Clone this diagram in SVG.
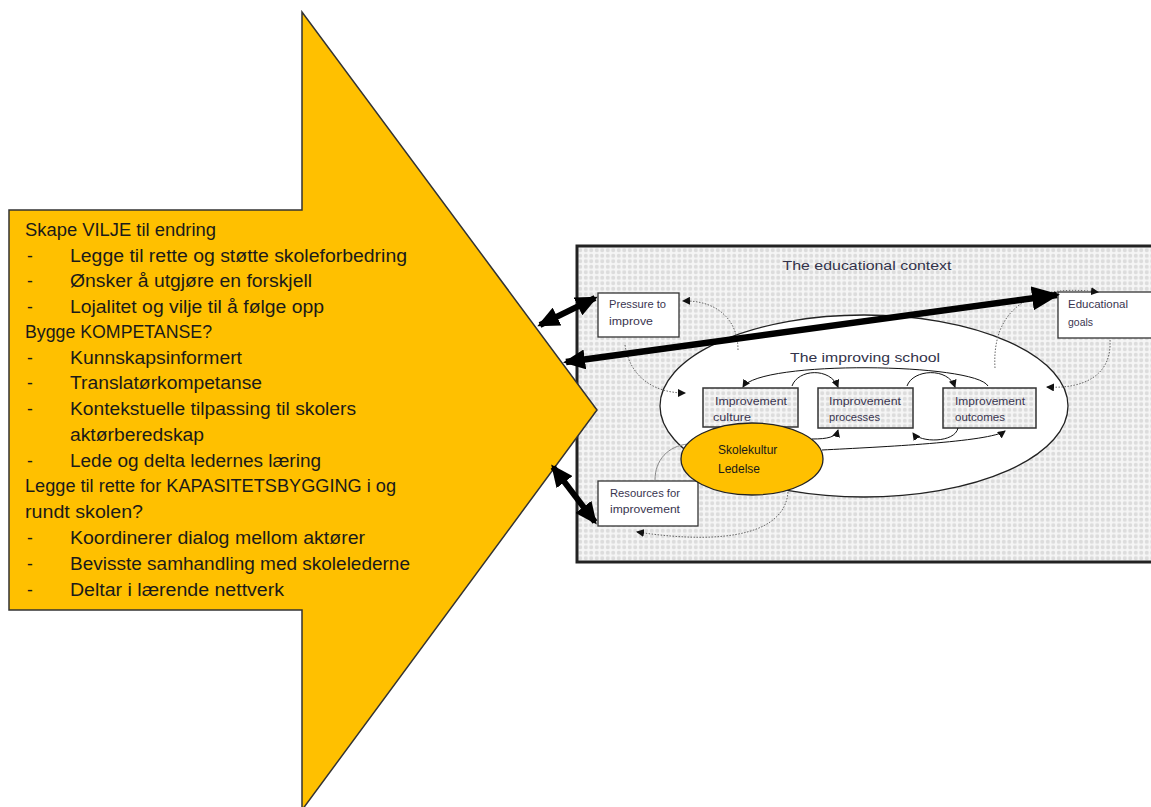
<svg xmlns="http://www.w3.org/2000/svg" width="1151" height="807" viewBox="0 0 1151 807">
<style>
.main{font-family:"Liberation Sans",Arial,sans-serif;font-size:17.5px;fill:#1a1a1a}
.lbl{font-family:"Liberation Sans",Arial,sans-serif;font-size:13.5px;fill:#33334a}
.sm{font-family:"Liberation Sans",Arial,sans-serif;font-size:10px;fill:#3a3550}
.sk{font-family:"Liberation Sans",Arial,sans-serif;font-size:12px;fill:#1a1a1a}
.box{fill:#fff;stroke:#333;stroke-width:1.3}
.pbox{fill:url(#dots);stroke:#333;stroke-width:1.5}
.thick{stroke:#000;stroke-width:6;fill:none;marker-start:url(#big);marker-end:url(#big)}
.thin{stroke:#111;stroke-width:1;fill:none;marker-end:url(#sm)}
.dot{stroke:#666;stroke-width:1;stroke-dasharray:1.5 1.5;fill:none}
</style>
<defs>
<pattern id="dots" width="5.5" height="5.5" patternUnits="userSpaceOnUse">
<rect width="5.5" height="5.5" fill="#f5f5f5"/>
<circle cx="2.75" cy="2.75" r="2" fill="#dcdcdc"/>
</pattern>
<marker id="big" viewBox="0 0 22 20" markerWidth="22" markerHeight="20" refX="19" refY="10" markerUnits="userSpaceOnUse" orient="auto-start-reverse">
<path d="M0,0 L22,10 L0,20 z" fill="#000"/>
</marker>
<marker id="big2" viewBox="0 0 28 24" markerWidth="28" markerHeight="24" refX="25" refY="12" markerUnits="userSpaceOnUse" orient="auto">
<path d="M0,0 L28,12 L0,24 z" fill="#000"/>
</marker>
<marker id="sm" viewBox="0 0 8 8" markerWidth="8" markerHeight="8" refX="7" refY="4" markerUnits="userSpaceOnUse" orient="auto">
<path d="M0,0 L8,4 L0,8 z" fill="#111"/>
</marker>
</defs>
<rect width="1151" height="807" fill="#fff"/>

<g id="context">
<rect x="577" y="246" width="580" height="316" fill="url(#dots)" stroke="#222" stroke-width="3"/>
<text class="lbl" x="867" y="270" text-anchor="middle" textLength="169" lengthAdjust="spacingAndGlyphs">The educational context</text>
</g>

<g id="bigArrow">
<polygon points="9,210 302,210 302,12 597,410 302,810 302,610 9,610" fill="#FFC000" stroke="#333" stroke-width="1.5"/>
<text class="main" x="25" y="236" textLength="191" lengthAdjust="spacingAndGlyphs">Skape VILJE til endring</text>
<text class="main" x="27" y="262">-</text><text class="main" x="70" y="262" textLength="337" lengthAdjust="spacingAndGlyphs">Legge til rette og støtte skoleforbedring</text>
<text class="main" x="27" y="287">-</text><text class="main" x="70" y="287" textLength="242" lengthAdjust="spacingAndGlyphs">Ønsker å utgjøre en forskjell</text>
<text class="main" x="27" y="313">-</text><text class="main" x="70" y="313" textLength="254" lengthAdjust="spacingAndGlyphs">Lojalitet og vilje til å følge opp</text>
<text class="main" x="25" y="338" textLength="187" lengthAdjust="spacingAndGlyphs">Bygge KOMPETANSE?</text>
<text class="main" x="27" y="364">-</text><text class="main" x="70" y="364" textLength="172" lengthAdjust="spacingAndGlyphs">Kunnskapsinformert</text>
<text class="main" x="27" y="389">-</text><text class="main" x="70" y="389" textLength="192" lengthAdjust="spacingAndGlyphs">Translatørkompetanse</text>
<text class="main" x="27" y="415">-</text><text class="main" x="70" y="415" textLength="286" lengthAdjust="spacingAndGlyphs">Kontekstuelle tilpassing til skolers</text>
<text class="main" x="70" y="441" textLength="134" lengthAdjust="spacingAndGlyphs">aktørberedskap</text>
<text class="main" x="27" y="467">-</text><text class="main" x="70" y="467" textLength="251" lengthAdjust="spacingAndGlyphs">Lede og delta ledernes læring</text>
<text class="main" x="25" y="492" textLength="371" lengthAdjust="spacingAndGlyphs">Legge til rette for KAPASITETSBYGGING i og</text>
<text class="main" x="25" y="518" textLength="118" lengthAdjust="spacingAndGlyphs">rundt skolen?</text>
<text class="main" x="27" y="544">-</text><text class="main" x="70" y="544" textLength="295" lengthAdjust="spacingAndGlyphs">Koordinerer dialog mellom aktører</text>
<text class="main" x="27" y="570">-</text><text class="main" x="70" y="570" textLength="340" lengthAdjust="spacingAndGlyphs">Bevisste samhandling med skolelederne</text>
<text class="main" x="27" y="596">-</text><text class="main" x="70" y="596" textLength="214" lengthAdjust="spacingAndGlyphs">Deltar i lærende nettverk</text>
</g>

<g id="improvingSchool">
<ellipse cx="864" cy="406" rx="204" ry="91" fill="#fff" stroke="#222" stroke-width="1.3"/>
<text class="lbl" x="865" y="362" text-anchor="middle" textLength="150" lengthAdjust="spacingAndGlyphs">The improving school</text>
</g>

<g id="pressure">
<rect class="box" x="598" y="293" width="81" height="44"/>
<text class="sm" x="609" y="308" textLength="57" lengthAdjust="spacingAndGlyphs">Pressure to</text>
<text class="sm" x="609" y="325" textLength="44" lengthAdjust="spacingAndGlyphs">improve</text>
</g>

<g id="goals">
<rect class="box" x="1058" y="292" width="100" height="46"/>
<text class="sm" x="1068" y="308" textLength="60" lengthAdjust="spacingAndGlyphs">Educational</text>
<text class="sm" x="1068" y="326" textLength="25" lengthAdjust="spacingAndGlyphs">goals</text>
</g>

<g id="resources">
<rect class="box" x="598" y="481" width="100" height="45"/>
<text class="sm" x="610" y="497" textLength="70" lengthAdjust="spacingAndGlyphs">Resources for</text>
<text class="sm" x="610" y="513" textLength="70" lengthAdjust="spacingAndGlyphs">improvement</text>
</g>

<g id="culture">
<rect class="pbox" x="703" y="388" width="95" height="39"/>
<text class="sm" x="715" y="405" textLength="72" lengthAdjust="spacingAndGlyphs">Improvement</text>
<text class="sm" x="713" y="421" textLength="38" lengthAdjust="spacingAndGlyphs">culture</text>
</g>

<g id="processes">
<rect class="pbox" x="818" y="388" width="95" height="40"/>
<text class="sm" x="829" y="405" textLength="72" lengthAdjust="spacingAndGlyphs">Improvement</text>
<text class="sm" x="829" y="421" textLength="51" lengthAdjust="spacingAndGlyphs">processes</text>
</g>

<g id="outcomes">
<rect class="pbox" x="943" y="388" width="93" height="40"/>
<text class="sm" x="955" y="405" textLength="70" lengthAdjust="spacingAndGlyphs">Improvement</text>
<text class="sm" x="955" y="421" textLength="50" lengthAdjust="spacingAndGlyphs">outcomes</text>
</g>

<g id="connectors">
<path class="thin" d="M988,386 C975,363 760,360 743,387"/>
<path class="thin" d="M792,386 C798,369 830,367 838,387"/>
<path class="thin" d="M907,386 C913,369 948,367 955,387"/>
<path class="thin" d="M812,439 C828,439 836,437 838,430"/>
<path class="thin" d="M958,428 C955,443 920,443 913,433"/>
<path class="thin" d="M822,450 C880,447 990,442 1005,431"/>
<path class="dot" d="M738,350 C738,318 715,300 683,301" marker-end="url(#sm)"/>
<path class="dot" d="M625,345 C630,378 655,393 685,393" marker-end="url(#sm)"/>
<path class="dot" d="M995,368 C992,318 1020,282 1098,292" marker-end="url(#sm)"/>
<path class="dot" d="M1110,340 C1112,378 1080,389 1047,387" marker-end="url(#sm)"/>
<path d="M655,480 C655,460 668,446 688,444" stroke="#888" stroke-width="1" fill="none"/>
<path class="dot" d="M788,492 C785,532 730,546 637,532" marker-end="url(#sm)"/>
<line class="thick" x1="540" y1="325" x2="595" y2="298"/>
<line stroke="#000" stroke-width="6.5" marker-start="url(#big)" marker-end="url(#big2)" x1="566" y1="362" x2="1057" y2="295"/>
<line class="thick" x1="553" y1="467" x2="595" y2="522"/>
</g>

<g id="skolekultur">
<ellipse cx="752" cy="459" rx="71" ry="36" fill="#FFC000" stroke="#222" stroke-width="1.3"/>
<text class="sk" x="718" y="454">Skolekultur</text>
<text class="sk" x="718" y="473">Ledelse</text>
</g>
</svg>
